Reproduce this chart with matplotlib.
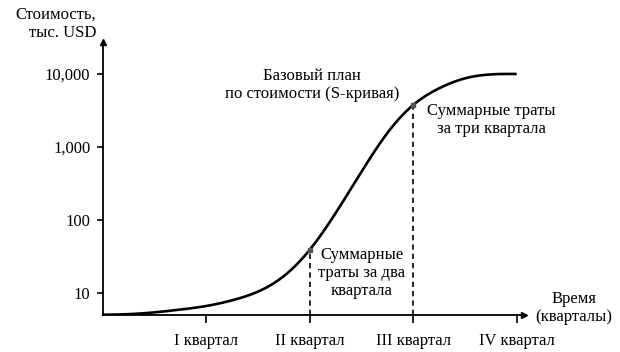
import numpy as np
import matplotlib
matplotlib.use("Agg")
import matplotlib.pyplot as plt

plt.rcParams['font.family'] = ['Liberation Serif', 'DejaVu Serif']

# ---- data ----
quarters = [0, 0.25, 0.5, 0.75, 1.0, 1.25, 1.5, 1.75, 2.0, 2.25, 2.5, 2.75, 3.0, 3.25, 3.5, 3.75, 4.0]
cost = [5.0, 5.1, 5.4, 5.9, 6.6, 7.9, 10.4, 17.0, 39, 124, 457, 1550, 3760, 6350, 8700, 9850, 10000]
marked_quarters = [2, 3]
x_tick_pos = [1, 2, 3, 4]
x_tick_labels = ["I квартал", "II квартал", "III квартал", "IV квартал"]
y_tick_pos = [10, 100, 1000, 10000]
y_tick_labels = ["10", "100", "1,000", "10,000"]


def natural_spline(x, y, xn):
    x = np.asarray(x, float); y = np.asarray(y, float)
    n = len(x); h = np.diff(x)
    A = np.zeros((n, n)); b = np.zeros(n)
    A[0, 0] = 1; A[-1, -1] = 1
    for i in range(1, n - 1):
        A[i, i - 1] = h[i - 1]; A[i, i] = 2 * (h[i - 1] + h[i]); A[i, i + 1] = h[i]
        b[i] = 6 * ((y[i + 1] - y[i]) / h[i] - (y[i] - y[i - 1]) / h[i - 1])
    M = np.linalg.solve(A, b)
    idx = np.clip(np.searchsorted(x, xn) - 1, 0, n - 2)
    x0 = x[idx]; x1 = x[idx + 1]; hh = h[idx]
    return (M[idx] * (x1 - xn) ** 3 / (6 * hh) + M[idx + 1] * (xn - x0) ** 3 / (6 * hh)
            + (y[idx] / hh - M[idx] * hh / 6) * (x1 - xn)
            + (y[idx + 1] / hh - M[idx + 1] * hh / 6) * (xn - x0))


fig = plt.figure(figsize=(6.2, 3.52), dpi=100)
ax = fig.add_axes([0.166, 0.105, 0.679, 0.776])

ylo, yhi = 4.96, 27500
xlo, xhi = 0, 4.07
ax.set_yscale('log')
ax.set_xlim(xlo, xhi)
ax.set_ylim(ylo, yhi)

xs = np.linspace(quarters[0], quarters[-1], 500)
logs = natural_spline(quarters, np.log10(cost), xs)
logs = np.minimum(logs, np.log10(max(cost)))
ys = 10 ** logs
ax.plot(xs, ys, color='black', lw=1.9, solid_capstyle='butt', zorder=3)

for q in marked_quarters:
    v = cost[quarters.index(q)]
    ax.plot([q, q], [ylo, v], color='black', lw=1.2, ls=(0, (3.2, 2.4)), zorder=2)
    ax.plot([q], [v], marker='s', ms=3.2, color='#555555', mec='#555555', zorder=4)

# spines and arrows
for s in ['top', 'right']:
    ax.spines[s].set_visible(False)
for s in ['left', 'bottom']:
    ax.spines[s].set_linewidth(1.3)
ax.plot([0], [1.0], marker='^', ms=5, color='black', transform=ax.transAxes, clip_on=False)
ax.plot([1.0], [0], marker='>', ms=5, color='black', transform=ax.transAxes, clip_on=False)

ax.set_yticks(y_tick_pos)
ax.set_yticklabels(y_tick_labels)
ax.yaxis.set_minor_locator(matplotlib.ticker.NullLocator())
ax.set_xticks(x_tick_pos)
ax.set_xticklabels(x_tick_labels)
ax.tick_params(axis='y', direction='out', length=4, width=1.2, pad=5, labelsize=12)
ax.tick_params(axis='x', direction='out', length=6, width=1.2, pad=7, labelsize=12)

# axis titles
fig.text(96 / 620, 1 - 24 / 352, "Стоимость,\nтыс. USD", ha='right', va='center', fontsize=12,
         linespacing=1.15)
fig.text(574 / 620, 1 - 308 / 352, "Время\n(кварталы)", ha='center', va='center', fontsize=12,
         linespacing=1.15)

# annotations
fig.text(312 / 620, 1 - 85 / 352, "Базовый план\nпо стоимости (S-кривая)", ha='center', va='center',
         fontsize=12, linespacing=1.2)
fig.text(491 / 620, 1 - 120 / 352, "Суммарные траты\nза три квартала", ha='center', va='center',
         fontsize=12, linespacing=1.2)
fig.text(362 / 620, 1 - 273 / 352, "Суммарные\nтраты за два\nквартала", ha='center', va='center',
         fontsize=12, linespacing=1.2)

fig.savefig("out.png", dpi=100)
